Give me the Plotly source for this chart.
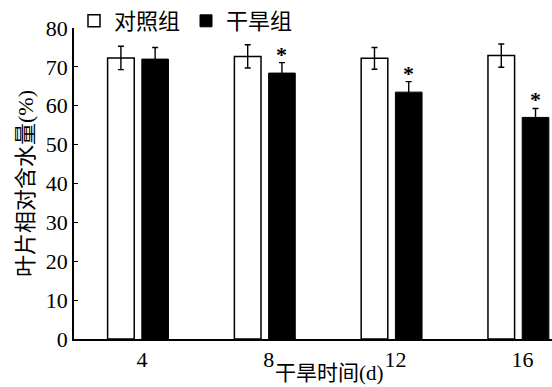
import plotly.graph_objects as go

days = [4, 8, 12, 16]
tick_labels = ["4", "8", "12", "16"]
control = [72.3, 72.7, 72.2, 72.9]
control_err = [3.0, 3.0, 2.8, 3.0]
drought = [72.0, 68.4, 63.5, 57.0]
drought_err = [3.0, 2.7, 2.7, 2.3]
signif = ["", "*", "*", "*"]

serif = "Liberation Serif, Noto Sans CJK SC, serif"
cjk = "Liberation Serif, Noto Sans CJK SC, sans-serif"

fig = go.Figure()
fig.add_trace(go.Bar(
    x=days, y=control, name="对照组", width=0.84, offset=-0.96,
    marker=dict(color="white", line=dict(color="black", width=1.5)),
    error_y=dict(type="data", array=control_err, color="black", thickness=1.4, width=3),
))
fig.add_trace(go.Bar(
    x=days, y=drought, name="干旱组", width=0.84, offset=0.12,
    marker=dict(color="black", line=dict(color="black", width=1)),
    error_y=dict(type="data", array=drought_err, color="black", thickness=1.4, width=3),
))

for d, v, e, s in zip(days, drought, drought_err, signif):
    if s:
        fig.add_annotation(x=d + 0.54, y=v + e, text="<b>" + s + "</b>", showarrow=False,
                           yanchor="bottom", yshift=-6,
                           font=dict(family=serif, size=22, color="black"))

fig.add_annotation(xref="paper", yref="paper", x=0.535, y=-0.151, xanchor="center",
                   yanchor="bottom", showarrow=False, text="干旱时间(d)", borderpad=0,
                   font=dict(family=cjk, size=21, color="black"))

fig.update_layout(
    width=552, height=387,
    margin=dict(l=74, r=0, t=27, b=48),
    paper_bgcolor="white", plot_bgcolor="white",
    barmode="overlay",
    showlegend=True,
    legend=dict(orientation="h", x=0, xanchor="left", y=1.09, yanchor="top",
                entrywidth=67,
                font=dict(family=cjk, size=22, color="black"),
                bgcolor="rgba(0,0,0,0)", itemclick=False),
    xaxis=dict(range=[1.98, 17.06], tickmode="array", tickvals=days, ticktext=tick_labels,
               ticks="", showline=True, linecolor="black", linewidth=1.5,
               showgrid=False, zeroline=False, ticklabelshift=4,
               tickfont=dict(family=serif, size=22, color="black")),
    yaxis=dict(range=[0, 80], tickmode="array", tickvals=list(range(0, 81, 10)),
               ticks="inside", ticklen=4, tickcolor="black", tickwidth=1.2,
               showline=True, linecolor="black", linewidth=1.5,
               showgrid=False, zeroline=False,
               tickfont=dict(family=serif, size=22, color="black"),
               title=dict(text="叶片相对含水量(%)", font=dict(family=cjk, size=22, color="black"), standoff=6)),
)

fig.write_html("out.html")
